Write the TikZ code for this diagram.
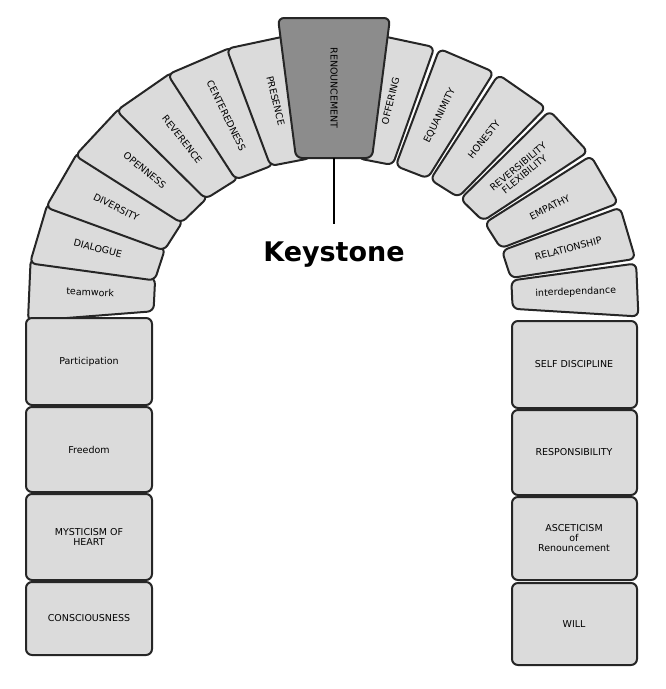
\documentclass[tikz,border=0pt]{standalone}
\usepackage{fontspec}
\setmainfont{DejaVu Sans}
\begin{document}
\begin{tikzpicture}[x=1pt,y=-1pt,
  stone/.style={draw=black!85,line width=2pt,rounded corners=6pt,fill=black!14},
  lab/.style={font=\fontsize{9.5}{10}\selectfont,align=center,inner sep=0pt}]
\useasboundingbox (0,0) rectangle (666,689);
\def\cx{333}\def\cy{300}\def\ao{306}\def\bo{268}\def\ai{180}\def\bi{143}
% arch stones
\foreach \i/\t [count=\n] in {0/teamwork,1/DIALOGUE,2/DIVERSITY,3/OPENNESS,4/REVERENCE,5/CENTEREDNESS,6/PRESENCE}{
  \pgfmathsetmacro\aa{184-12.36*\i+0.5}
  \pgfmathsetmacro\ab{184-12.36*(\i+1)-0.5}
  \pgfmathsetmacro\am{184-12.36*(\i+0.5)}
  \draw[stone] ({\cx+\ao*cos(\aa)},{\cy-\bo*sin(\aa)}) -- ({\cx+\ao*cos(\ab)},{\cy-\bo*sin(\ab)}) -- ({\cx+\ai*cos(\ab)},{\cy-\bi*sin(\ab)}) -- ({\cx+\ai*cos(\aa)},{\cy-\bi*sin(\aa)}) -- cycle;
  \node[lab,rotate=\am-180] (L\n) at ({\cx+243*cos(\am)},{\cy-205*sin(\am)}) {\t};
}
\foreach \i/\t [count=\n] in {0/OFFERING,1/EQUANIMITY,2/HONESTY,3/{REVERSIBILITY\\FLEXIBILITY},4/EMPATHY,5/RELATIONSHIP,6/interdependance}{
  \pgfmathsetmacro\aa{82.5-12.36*\i-0.5}
  \pgfmathsetmacro\ab{82.5-12.36*(\i+1)+0.5}
  \pgfmathsetmacro\am{82.5-12.36*(\i+0.5)}
  \draw[stone] ({\cx+\ao*cos(\aa)},{\cy-\bo*sin(\aa)}) -- ({\cx+\ao*cos(\ab)},{\cy-\bo*sin(\ab)}) -- ({\cx+\ai*cos(\ab)},{\cy-\bi*sin(\ab)}) -- ({\cx+\ai*cos(\aa)},{\cy-\bi*sin(\aa)}) -- cycle;
  \node[lab,rotate=\am] (R\n) at ({\cx+243*cos(\am)},{\cy-205*sin(\am)}) {\t};
}
% keystone
\draw[stone,fill=black!45] (278,18) -- (390,18) -- (372,158) -- (296,158) -- cycle;
\node[lab,rotate=-90] (key) at (334,88) {RENOUNCEMENT};
\coordinate (kb) at (334,158);
\node[font=\fontsize{27}{30}\bfseries\selectfont,inner sep=0pt] (kl) at (334,255) {Keystone};
\draw[line width=1.8pt] (kb) -- (334,224);
% pillars
\foreach \y/\h/\t [count=\n] in {318/87/Participation,407/85/Freedom,494/86/{MYSTICISM OF\\HEART},582/73/CONSCIOUSNESS}{
  \draw[stone] (26,\y) rectangle (152,\y+\h);
  \node[lab] (P\n) at (89,\y+\h/2) {\t};
}
\foreach \y/\h/\t [count=\n] in {321/87/SELF DISCIPLINE,410/85/RESPONSIBILITY,497/83/{ASCETICISM\\of\\Renouncement},583/82/WILL}{
  \draw[stone] (512,\y) rectangle (637,\y+\h);
  \node[lab] (Q\n) at (574,\y+\h/2) {\t};
}
\end{tikzpicture}
\end{document}
